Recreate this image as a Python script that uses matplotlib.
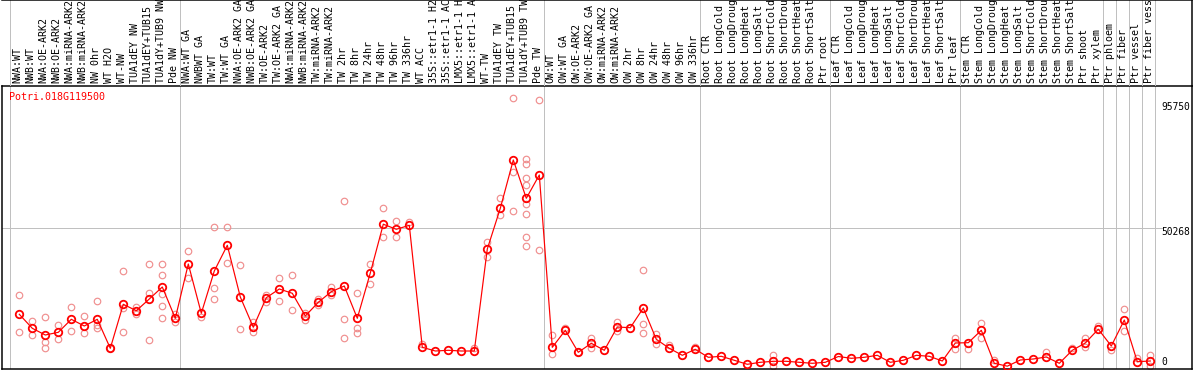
import matplotlib
matplotlib.use("Agg")
import matplotlib.pyplot as plt

# ---------------- data ----------------
gene = "Potri.018G119500"

labels = [
    "NWA:WT", "NWB:WT", "NWA:OE-ARK2", "NWB:OE-ARK2", "NWA:miRNA-ARK2", "NWB:miRNA-ARK2",
    "NW 0hr", "WT H2O", "WT-NW", "TUA1dEY NW", "TUA1dEY+TUB15", "TUA1dY+TUB9 NW", "Pde NW",
    "NWA:WT GA", "NWBWT GA", "TW:WT", "TW:WT GA", "NWA:OE-ARK2 GA", "NWB:OE-ARK2 GA",
    "TW:OE-ARK2", "TW:OE-ARK2 GA", "NWA:miRNA-ARK2", "NWB:miRNA-ARK2", "TW:miRNA-ARK2",
    "TW:miRNA-ARK2", "TW 2hr", "TW 8hr", "TW 24hr", "TW 48hr", "TW 96hr", "TW 336hr",
    "WT ACC", "35S::etr1-1 H2O", "35S::etr1-1 ACC", "LMX5::etr1-1 H2O", "LMX5::etr1-1 ACC",
    "WT-TW", "TUA1dEY TW", "TUA1dEY+TUB15 TW", "TUA1dY+TUB9 TW", "Pde TW",
    "OW:WT", "OW:WT GA", "OW:OE-ARK2", "OW:OE-ARK2 GA", "OW:miRNA-ARK2", "OW:miRNA-ARK2",
    "OW 2hr", "OW 8hr", "OW 24hr", "OW 48hr", "OW 96hr", "OW 336hr",
    "Root CTR", "Root LongCold", "Root LongDrought", "Root LongHeat", "Root LongSalt",
    "Root ShortCold", "Root ShortDrought", "Root ShortHeat", "Root ShortSalt", "Ptr root",
    "Leaf CTR", "Leaf LongCold", "Leaf LongDrought", "Leaf LongHeat", "Leaf LongSalt",
    "Leaf ShortCold", "Leaf ShortDrought", "Leaf ShortHeat", "Leaf ShortSalt", "Ptr leaf",
    "Stem CTR", "Stem LongCold", "Stem LongDrought", "Stem LongHeat", "Stem LongSalt",
    "Stem ShortCold", "Stem ShortDrought", "Stem ShortHeat", "Stem ShortSalt", "Ptr shoot",
    "Ptr xylem", "Ptr phloem", "Ptr fiber", "Ptr vessel", "Ptr fiber vessel",
]

means = [
    18975, 13881, 11443, 12426, 17156, 14718, 17156, 6604, 22614, 20285, 24542, 28909, 17520,
    37277, 19339, 34730, 44082, 25270, 14245, 25015, 28181, 26616, 18357, 23341, 27199,
    29272, 17520, 34003, 51759, 49903, 51358, 6968, 5622, 5876, 5622, 5622, 42735, 57544,
    75118, 61183, 69660,
    6968, 13153, 5149, 8423, 5876, 14354, 14100, 21267, 9879, 6604, 4057, 6240,
    3329, 3693, 2238, 782, 1510, 1874, 1874, 1510, 1146, 1510,
    3620, 2965, 3329, 4057, 1510, 2238, 4057, 3693, 1983, 8533,
    8642, 13153, 1146, 100, 2347, 2711, 3438, 1146, 5876, 8533, 13554,
    7441, 16901, 1728, 1983,
]

replicates = {
    0: [25998, 12535], 1: [16537, 11443], 2: [17993, 9006, 6604], 3: [15082, 9879],
    4: [21522, 13008], 5: [18357, 12062], 6: [23705, 15082, 13881], 7: [6604],
    8: [34730, 21158, 12535], 9: [21741, 18975], 10: [37277, 26616, 9515],
    11: [37277, 33166, 26252, 21995, 17520], 12: [18975, 16283], 13: [42007, 32292],
    14: [18102], 15: [50631, 28545, 24542], 16: [50631, 37532], 17: [36804, 13517],
    18: [16283, 12535], 19: [25998, 23451], 20: [32183, 23705], 21: [33166, 20431],
    22: [19557, 16901], 23: [24433, 22359], 24: [29018, 25998], 25: [60091, 17156, 10243],
    26: [26616, 13881, 12062], 27: [37277, 29891], 28: [57653, 47210], 29: [52923, 47210],
    30: [52450], 31: [8169], 35: [6604], 36: [45391, 39715], 37: [61183, 55107],
    38: [97568, 70862, 56562],
    39: [75482, 73554, 68678, 66022, 58999, 55361, 46992, 43717],
    40: [96840, 42371], 41: [11262, 4457], 42: [13881], 43: [5367], 44: [10243, 6713],
    46: [16283, 12899], 48: [35094, 15337, 12062], 49: [11807, 8169], 50: [7914],
    52: [7186], 58: [4166, 0], 72: [10243, 6349], 73: [6458], 74: [15700, 10461],
    75: [2347], 79: [5367], 81: [6822], 82: [10461, 6968], 83: [14718], 84: [5985],
    85: [20831, 12790], 86: [3075], 87: [4166, 0],
}

group_ends = [12, 40, 52, 62, 72, 83, 84, 85, 86, 87]
ytick_values = [95750, 50268, 0]

# ---------------- layout (pixels) ----------------
W, H = 1194, 370
DPI = 100
PX = 72.0 / DPI  # points per pixel

def fx(px):
    return px / W

def fy(py):
    return 1 - py / H

col0_px, col_w = 19.3, 13.0
zero_py, units_per_px = 366.45, 363.86
left_px, right_px, top_px, bot_px = 1.5, 1192.0, 86.0, 369.0

def px2col(px):
    return (px - col0_px) / col_w

def py2val(py):
    return (zero_py - py) * units_per_px

xlim = (px2col(left_px), px2col(right_px))

mono = "DejaVu Sans Mono"
fs = 10 * PX

fig = plt.figure(figsize=(W / DPI, H / DPI), dpi=DPI)
fig.patch.set_facecolor("white")

ax = fig.add_axes([fx(left_px), fy(bot_px), (right_px - left_px) / W, (bot_px - top_px) / H])
ax.set_xlim(*xlim)
ax.set_ylim(py2val(bot_px), py2val(top_px))
ax.set_xticks([])
ax.set_yticks([])
for s in ax.spines.values():
    s.set_color("black")
    s.set_linewidth(1.5 * PX)

hx = fig.add_axes([fx(left_px), fy(top_px), (right_px - left_px) / W, top_px / H])
hx.set_xlim(*xlim)
hx.set_ylim(top_px, 0)
hx.set_xticks([])
hx.set_yticks([])
hx.patch.set_alpha(0)
for k, s in hx.spines.items():
    if k in ("top", "right"):
        s.set_color("black")
        s.set_linewidth(1.5 * PX)
    else:
        s.set_visible(False)

grid_c = "#C0C0C0"
div_pos = [px2col(10.3)] + [g + 5.0 / col_w for g in group_ends]
for a in (ax, hx):
    for d in div_pos:
        a.axvline(d, color=grid_c, lw=1 * PX, zorder=0.5)

ax.plot([xlim[0], px2col(1162)], [ytick_values[1]] * 2, color=grid_c, lw=1 * PX, zorder=0.5)

rep_x, rep_y = [], []
for i, vals in replicates.items():
    for v in vals:
        rep_x.append(i)
        rep_y.append(v)
ax.plot(rep_x, rep_y, linestyle="none", marker="o", markersize=6.5 * PX,
        markerfacecolor="none", markeredgecolor="#F09090", markeredgewidth=1.2 * PX, zorder=2)

xs = list(range(len(means)))
ax.plot(xs, means, color="#FF0000", lw=1.2 * PX, zorder=3)
ax.plot(xs, means, linestyle="none", marker="o", markersize=7.5 * PX,
        markerfacecolor="none", markeredgecolor="#FF0000", markeredgewidth=1.8 * PX, zorder=4)

for i, lab in enumerate(labels):
    hx.text(i + 1.4 / col_w, 83.0, lab, rotation=90, rotation_mode="anchor",
            ha="left", va="baseline", fontsize=fs, family=mono, color="black", clip_on=True)

fig.text(fx(9.3), fy(97.0), gene, color="#FF0000", fontsize=fs, family=mono,
         ha="left", va="center")

for v, py in zip(ytick_values, [106.7, 231.7, 361.7]):
    fig.text(fx(1161.5), fy(py), str(v), color="black", fontsize=fs * 0.97, family=mono,
             ha="left", va="center")

fig.savefig("out.png", dpi=DPI, facecolor="white")
